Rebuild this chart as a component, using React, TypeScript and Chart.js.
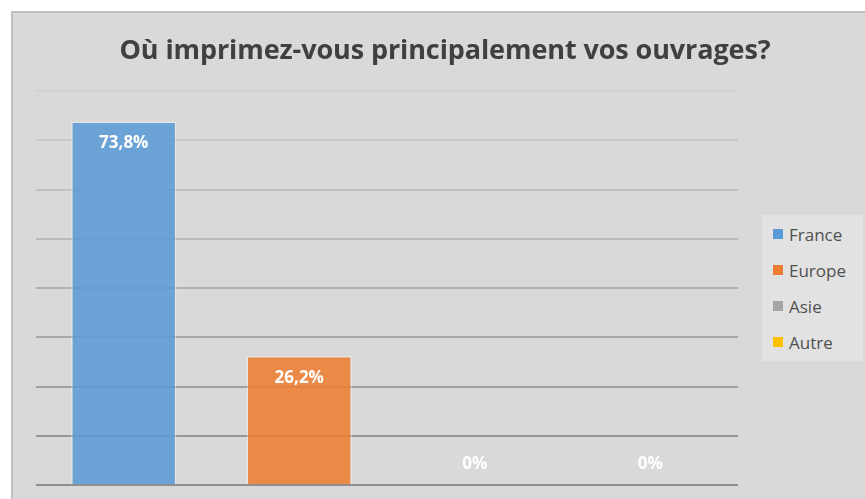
import React, { useEffect, useRef } from "react";
import { Chart, registerables } from "chart.js";

Chart.register(...registerables);

const TITLE = "Où imprimez-vous principalement vos ouvrages?";
const CATEGORIES = ["France", "Europe", "Asie", "Autre"];
const VALUES = [73.8, 26.2, 0, 0];
const LABELS = ["73,8%", "26,2%", "0%", "0%"];
const COLORS = ["#5b9bd5", "#ed7d31", "#a5a5a5", "#ffc000"];
const FILLS = ["rgba(91,155,213,0.88)", "rgba(237,125,49,0.88)", "rgba(165,165,165,0.88)", "rgba(255,192,0,0.88)"];
const Y_MAX = 80;
const Y_STEP = 10;

const labelPlugin = {
  id: "barLabels",
  afterDatasetsDraw(chart: any) {
    const ctx = chart.ctx;
    const meta = chart.getDatasetMeta(0);
    const base = chart.scales.y.getPixelForValue(0);
    ctx.save();
    ctx.fillStyle = "#ffffff";
    ctx.font = "bold 17px 'Open Sans', sans-serif";
    ctx.textAlign = "center";
    ctx.textBaseline = "middle";
    meta.data.forEach((bar: any, i: number) => {
      const y = VALUES[i] > 0 ? bar.y + 22 : base - 21;
      ctx.fillText(LABELS[i], bar.x, y);
    });
    ctx.restore();
  },
};

export default function App() {
  const ref = useRef<HTMLCanvasElement>(null);
  useEffect(() => {
    if (!ref.current) return;
    const chart = new Chart(ref.current, {
      type: "bar",
      data: {
        labels: CATEGORIES,
        datasets: [
          {
            data: VALUES,
            backgroundColor: FILLS,
            borderColor: "rgba(255,255,255,0.35)",
            borderWidth: 1.5,
            categoryPercentage: 0.6,
            barPercentage: 1,
          },
        ],
      },
      options: {
        animation: false,
        responsive: false,
        maintainAspectRatio: false,
        layout: { padding: { left: 23, right: 127, top: 78, bottom: 14 } },
        plugins: { legend: { display: false }, tooltip: { enabled: false }, title: { display: false } },
        scales: {
          x: { display: false },
          y: {
            min: 0,
            max: Y_MAX,
            ticks: { display: false, stepSize: Y_STEP },
            border: { display: false },
            grid: {
              drawTicks: false,
              lineWidth: 2,
              color: (c: any) => {
                const v = c.tick ? c.tick.value : 0;
                const t = v / Y_MAX;
                const g = Math.round(0x8e + (0xd2 - 0x8e) * t);
                return `rgb(${g},${g},${g})`;
              },
            },
          },
        },
      },
      plugins: [labelPlugin],
    });
    return () => chart.destroy();
  }, []);

  return (
    <div
      style={{
        position: "fixed",
        left: 11,
        top: 11,
        width: 854,
        height: 488,
        background: "#d9d9d9",
        borderLeft: "2px solid #bfbfbf",
        borderTop: "2px solid #bfbfbf",
        boxSizing: "border-box",
        overflow: "hidden",
      }}
    >
      <canvas ref={ref} width={852} height={486} style={{ position: "absolute", left: 0, top: 0 }} />
      <div
        style={{
          position: "absolute",
          left: 0,
          right: 0,
          top: 17,
          textAlign: "center",
          fontFamily: "'Open Sans', sans-serif",
          fontWeight: 700,
          fontSize: 27,
          color: "#404040",
          letterSpacing: -0.1,
          whiteSpace: "nowrap",
        }}
      >
        <span style={{ position: "relative", left: 6 }}>{TITLE}</span>
      </div>
      <div
        style={{
          position: "absolute",
          left: 749,
          top: 202,
          width: 101,
          height: 146,
          background: "#e2e2e2",
          fontFamily: "'Open Sans', sans-serif",
          fontSize: 17,
          color: "#505050",
          boxSizing: "border-box",
          paddingTop: 1,
        }}
      >
        {CATEGORIES.map((c, i) => (
          <div key={c} style={{ display: "flex", alignItems: "center", height: 36, paddingLeft: 11 }}>
            <span style={{ width: 10, height: 10, background: COLORS[i], marginRight: 6, display: "inline-block", flex: "none" }} />
            <span>{c}</span>
          </div>
        ))}
      </div>
    </div>
  );
}
